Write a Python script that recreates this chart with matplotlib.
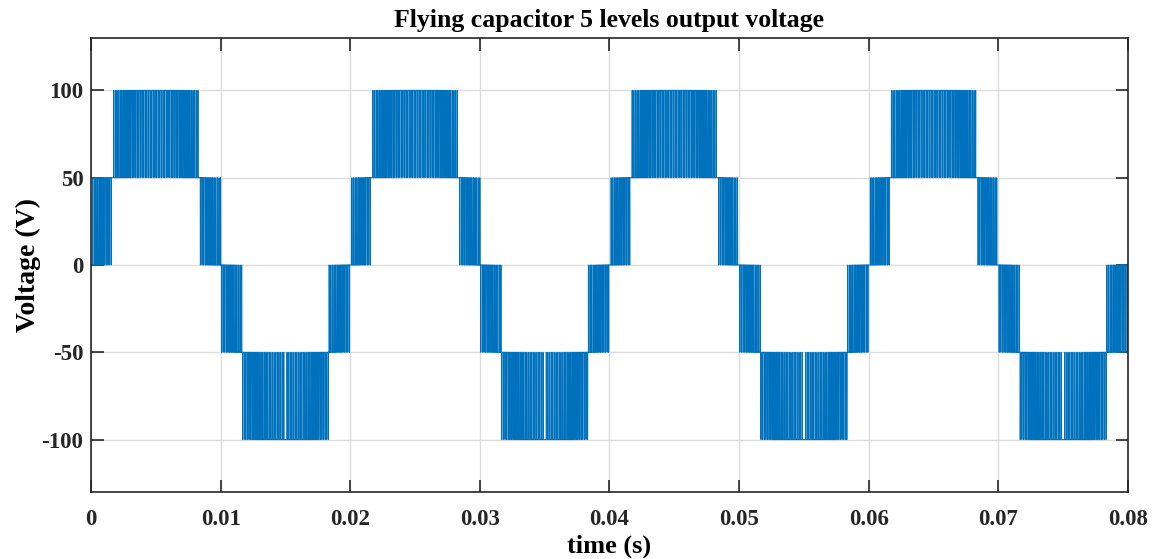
import numpy as np
import matplotlib
matplotlib.use("Agg")
import matplotlib.pyplot as plt

# values
f_out = 50.0          # Hz, fundamental of the reference
v_ref_peak = 100.0    # V, peak of the modulating sine
v_step = 50.0         # V, one level of the 5-level output
f_carrier = 8000.0    # Hz, carrier of the level-shifted PWM
t_end = 0.08

x_ticks = [0, 0.01, 0.02, 0.03, 0.04, 0.05, 0.06, 0.07, 0.08]
x_tick_labels = ["0", "0.01", "0.02", "0.03", "0.04", "0.05", "0.06", "0.07", "0.08"]
y_ticks = [-100, -50, 0, 50, 100]
y_tick_labels = ["-100", "-50", "0", "50", "100"]

# level-shifted (phase disposition) PWM of the sine reference
t = np.arange(0, t_end, 5e-7)
ref = v_ref_peak * np.sin(2 * np.pi * f_out * t) / v_step
band = np.floor(ref)
duty = ref - band
phase = (t * f_carrier) % 1.0
carrier = 1 - np.abs(2 * phase - 1)
v_out = v_step * (band + (duty > carrier))
v_out = np.clip(v_out, -100, 100)

plt.rcParams["font.family"] = "Liberation Serif"
plt.rcParams["font.weight"] = "bold"

fig = plt.figure(figsize=(11.62, 5.59), dpi=100)
ax = fig.add_axes([0.0783, 0.1199, 0.8924, 0.8121])
ax.plot(t, v_out, color="#0072BD", linewidth=0.7)

ax.set_xlim(0, t_end)
ax.set_ylim(-130, 130)
ax.set_xticks(x_ticks)
ax.set_xticklabels(x_tick_labels)
ax.set_yticks(y_ticks)
ax.set_yticklabels(y_tick_labels)
ax.grid(True, color="#dcdcdc", linewidth=1)
ax.set_axisbelow(True)
ax.tick_params(direction="in", length=9, width=1.2, top=True, right=True,
               labelsize=16.5, colors="#262626")
ax.tick_params(axis="x", pad=12.5)
ax.tick_params(axis="y", pad=5.5)
for s in ax.spines.values():
    s.set_color("#262626")
    s.set_linewidth(1.2)

ax.set_xlabel("time (s)", fontsize=19, fontweight="bold", labelpad=3)
ax.set_ylabel("Voltage (V)", fontsize=20, fontweight="bold", labelpad=0)
ax.set_title("Flying capacitor 5 levels output voltage", fontsize=18.5, fontweight="bold", pad=8)

fig.savefig("out.png", dpi=100)
